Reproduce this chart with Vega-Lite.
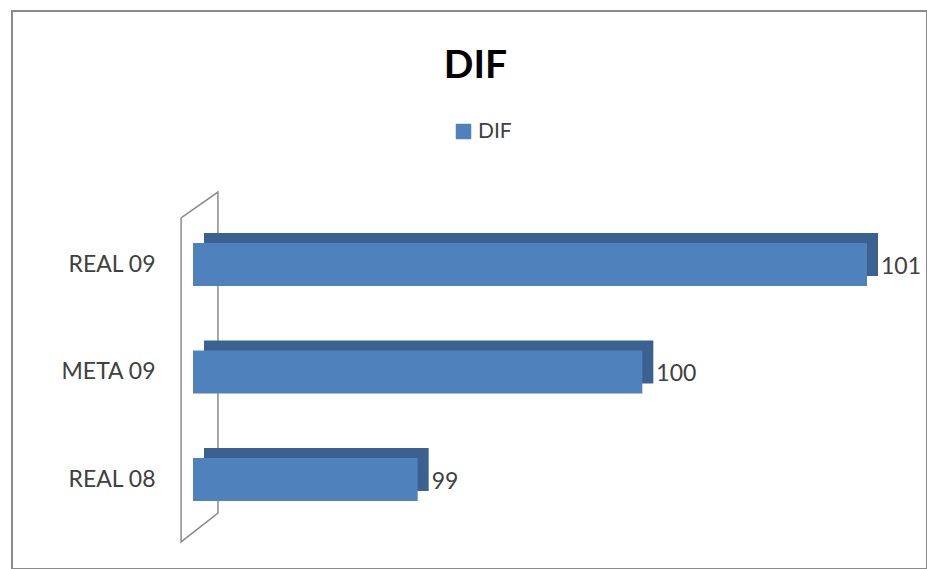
{
  "$schema": "https://vega.github.io/schema/vega-lite/v6.json",
  "width": 915,
  "height": 558,
  "autosize": {"type": "none"},
  "padding": {"left": 12, "top": 11, "right": 0, "bottom": 0},
  "background": "white",
  "config": {"view": {"stroke": "#8a8a8a", "strokeWidth": 2, "fill": "white"}, "font": "Lato"},
  "title": {"text": "DIF", "font": "Lato", "fontSize": 39, "fontWeight": "bold", "color": "#000000", "anchor": "middle", "frame": "group", "offset": -64, "baseline": "alphabetic", "dx": 6, "dy": 42},
  "datasets": {
    "bars": [
      {"cat": "REAL 09", "value": 101, "series": "DIF"},
      {"cat": "META 09", "value": 100, "series": "DIF"},
      {"cat": "REAL 08", "value": 99, "series": "DIF"}
    ],
    "wall": [
      {"wx": 97.947, "wy": -0.433, "ord": 0},
      {"wx": 98.111, "wy": -0.674, "ord": 1},
      {"wx": 98.111, "wy": 2.312, "ord": 2},
      {"wx": 97.947, "wy": 2.581, "ord": 3},
      {"wx": 97.947, "wy": -0.433, "ord": 4}
    ]
  },
  "layer": [
    {
      "data": {"name": "wall"},
      "mark": {"type": "line", "stroke": "#8c8c8c", "strokeWidth": 1.5},
      "encoding": {
        "x": {"field": "wx", "type": "quantitative", "scale": {"domain": [98, 101], "range": [181, 855], "zero": false, "nice": false}, "axis": null},
        "y": {"field": "wy", "type": "quantitative", "scale": {"domain": [0, 2], "range": [253.5, 468.5], "zero": false, "nice": false}, "axis": null},
        "order": {"field": "ord", "type": "quantitative"}
      }
    },
    {
      "data": {"name": "bars"},
      "encoding": {
        "y": {"field": "cat", "type": "nominal", "sort": ["REAL 09", "META 09", "REAL 08"],
          "scale": {"range": [199.75, 522.25], "paddingInner": 0.6, "paddingOuter": 0.3},
          "axis": {"title": null, "orient": "left", "offset": -143, "labelPadding": 0, "ticks": false, "domain": false, "labelAlign": "right", "labelFontSize": 23, "labelFont": "Lato", "labelColor": "#404040"}},
        "x": {"field": "value", "type": "quantitative", "scale": {"domain": [98, 101], "range": [181, 855], "zero": false, "nice": false}, "axis": null}
      },
      "layer": [
        {
          "mark": {"type": "bar", "color": "#3B6191", "xOffset": 11, "x2Offset": 11, "yOffset": -10, "y2Offset": -10},
          "encoding": {"x2": {"datum": 98}}
        },
        {
          "mark": {"type": "bar"},
          "encoding": {
            "x2": {"datum": 98},
            "color": {"field": "series", "type": "nominal", "scale": {"range": ["#4F81BD"]},
              "legend": {"orient": "none", "legendX": 441, "legendY": 110, "title": null, "symbolType": "square", "symbolSize": 240, "labelFontSize": 21, "labelFont": "Lato", "labelColor": "#404040", "padding": 0, "labelOffset": 4, "symbolStrokeWidth": 0}}
          }
        },
        {
          "mark": {"type": "text", "align": "left", "baseline": "middle", "dx": 14, "dy": 2, "fontSize": 23, "font": "Lato", "color": "#404040"},
          "encoding": {"text": {"field": "value", "type": "quantitative"}}
        }
      ]
    }
  ],
  "resolve": {"scale": {"y": "independent"}}
}
